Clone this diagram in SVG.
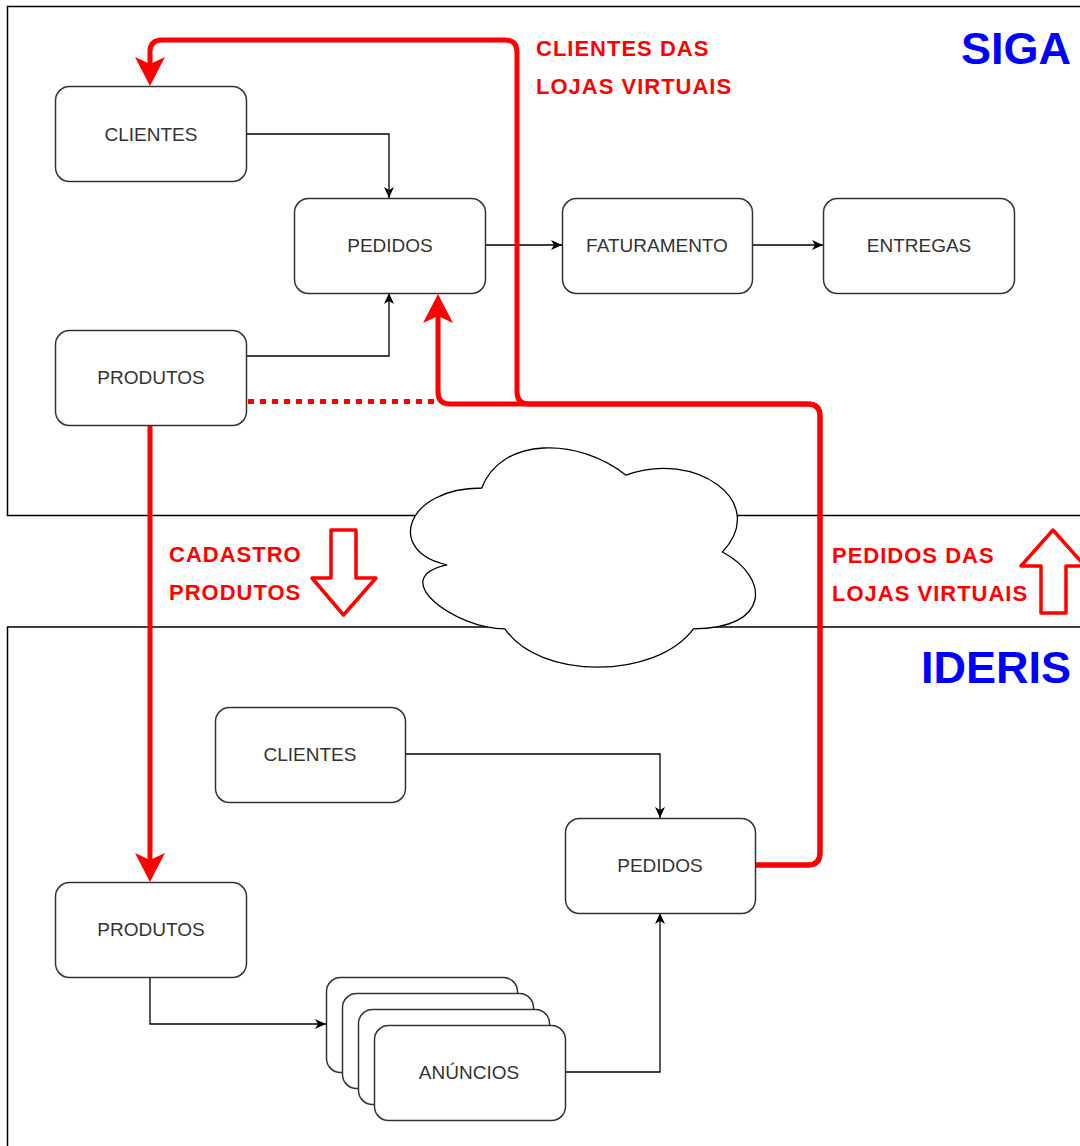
<svg xmlns="http://www.w3.org/2000/svg" width="1080" height="1146" viewBox="0 0 1080 1146">
  <style>
    .container { fill: #ffffff; stroke: #000000; stroke-width: 1.5; }
    .node { fill: #ffffff; stroke: #333333; stroke-width: 1.5; }
    .label { font-family: "Liberation Sans", Arial, sans-serif; font-size: 19px; fill: #333333; text-anchor: middle; }
    .red-label { font-family: "Liberation Sans", Arial, sans-serif; font-size: 22px; font-weight: bold; fill: #ff0000; letter-spacing: 1px; }
    .title { font-family: "Liberation Sans", Arial, sans-serif; font-size: 45px; font-weight: bold; fill: #0000ff; text-anchor: end; }
    .conn { fill: none; stroke: #000000; stroke-width: 1.3; }
    .red { fill: none; stroke: #ff0000; stroke-width: 5; stroke-linejoin: round; }
    .red-dot { fill: none; stroke: #ff0000; stroke-width: 5; stroke-dasharray: 6 6; }
    .big-arrow { fill: #ffffff; stroke: #ff0000; stroke-width: 3.5; stroke-linejoin: round; }
    .cloud { fill: #ffffff; stroke: #000000; stroke-width: 1.3; }
  </style>
  <defs>
    <marker id="ah" markerUnits="userSpaceOnUse" markerWidth="20" markerHeight="20" refX="11" refY="0" orient="auto" overflow="visible">
      <path d="M0,-5 L11,0 L0,5 L3,0 Z" fill="#000000"/>
    </marker>
    <marker id="rh" markerUnits="userSpaceOnUse" markerWidth="40" markerHeight="40" refX="19" refY="0" orient="auto" overflow="visible">
      <path d="M0,-15 L29,0 L0,15 L7,0 Z" fill="#ff0000"/>
    </marker>
  </defs>

  <!-- containers -->
  <g id="siga-container">
    <rect class="container" x="7.5" y="6.5" width="1100" height="509"/>
  </g>
  <g id="ideris-container">
    <rect class="container" x="7.5" y="627" width="1100" height="600"/>
  </g>

  <g id="cloud">
    <path class="cloud" d="M 481.75 488 C 404.75 488 385.5 552 447.1 564.8 C 385.5 577.6 454.8 628.8 504.85 628.8 C 539.5 680 655 680 693.5 628.8 C 770.5 628.8 770.5 577.6 722.4 552 C 770.5 500.8 693.5 449.6 626.1 475.2 C 578 436.8 501 436.8 481.75 488 Z"/>
  </g>

  <!-- titles and labels -->
  <g id="titles">
    <text class="title" x="1071" y="64">SIGA</text>
    <text class="title" x="1071" y="683">IDERIS</text>
  </g>
  <g id="red-labels">
    <text class="red-label" x="536" y="56">CLIENTES DAS</text>
    <text class="red-label" x="536" y="94">LOJAS VIRTUAIS</text>
    <text class="red-label" x="169" y="562">CADASTRO</text>
    <text class="red-label" x="169" y="600">PRODUTOS</text>
    <text class="red-label" x="832" y="563">PEDIDOS DAS</text>
    <text class="red-label" x="832" y="601">LOJAS VIRTUAIS</text>
  </g>
  <g id="big-arrows">
    <polygon class="big-arrow" points="331,530 356,530 356,578 376,578 343.5,615 312,578 331,578"/>
    <polygon class="big-arrow" points="1053,530 1085,566 1066,566 1066,613 1041,613 1041,566 1021,566"/>
  </g>

  <!-- connectors -->
  <g id="connectors">
    <path class="conn" marker-end="url(#ah)" d="M 246 134 H 389 V 198"/>
    <path class="conn" marker-end="url(#ah)" d="M 246 356 H 389 V 293"/>
    <path class="conn" marker-end="url(#ah)" d="M 485 245 H 562"/>
    <path class="conn" marker-end="url(#ah)" d="M 752 245 H 823"/>
    <path class="conn" marker-end="url(#ah)" d="M 405 754 H 660 V 818"/>
    <path class="conn" marker-end="url(#ah)" d="M 150 977 V 1024 H 326"/>
    <path class="conn" marker-end="url(#ah)" d="M 565 1072 H 660 V 913"/>

    <path class="red-dot" d="M 248 401.5 H 436"/>
    <path class="red" marker-end="url(#rh)" d="M 150 425 V 872"/>
    <path class="red" marker-end="url(#rh)" d="M 755 865 H 808 Q 820 865 820 853 V 416 Q 820 404 808 404 H 450 Q 438 404 438 392 V 304"/>
    <path class="red" marker-end="url(#rh)" d="M 755 865 H 808 Q 820 865 820 853 V 416 Q 820 404 808 404 H 529 Q 517 404 517 392 V 52 Q 517 40 505 40 H 162 Q 150 40 150 52 V 76"/>
  </g>

  <!-- nodes -->
  <g id="siga-clientes">
    <rect class="node" x="55.5" y="86.5" width="191" height="95" rx="14"/>
    <text class="label" x="151" y="141">CLIENTES</text>
  </g>
  <g id="siga-pedidos">
    <rect class="node" x="294.5" y="198.5" width="191" height="95" rx="14"/>
    <text class="label" x="390" y="252">PEDIDOS</text>
  </g>
  <g id="siga-faturamento">
    <rect class="node" x="562.5" y="198.5" width="190" height="95" rx="14"/>
    <text class="label" x="657" y="252">FATURAMENTO</text>
  </g>
  <g id="siga-entregas">
    <rect class="node" x="823.5" y="198.5" width="191" height="95" rx="14"/>
    <text class="label" x="919" y="252">ENTREGAS</text>
  </g>
  <g id="siga-produtos">
    <rect class="node" x="55.5" y="330.5" width="191" height="95" rx="14"/>
    <text class="label" x="151" y="384">PRODUTOS</text>
  </g>
  <g id="ideris-clientes">
    <rect class="node" x="215.5" y="707.5" width="190" height="95" rx="14"/>
    <text class="label" x="310" y="761">CLIENTES</text>
  </g>
  <g id="ideris-pedidos">
    <rect class="node" x="565.5" y="818.5" width="190" height="95" rx="14"/>
    <text class="label" x="660" y="872">PEDIDOS</text>
  </g>
  <g id="ideris-produtos">
    <rect class="node" x="55.5" y="882.5" width="191" height="95" rx="14"/>
    <text class="label" x="151" y="936">PRODUTOS</text>
  </g>
  <g id="ideris-anuncios">
    <rect class="node" x="326.5" y="977.5" width="191" height="95" rx="14"/>
    <rect class="node" x="342.5" y="993.5" width="191" height="95" rx="14"/>
    <rect class="node" x="358.5" y="1009.5" width="191" height="95" rx="14"/>
    <rect class="node" x="374.5" y="1025.5" width="191" height="95" rx="14"/>
    <text class="label" x="469" y="1079">ANÚNCIOS</text>
  </g>
</svg>
